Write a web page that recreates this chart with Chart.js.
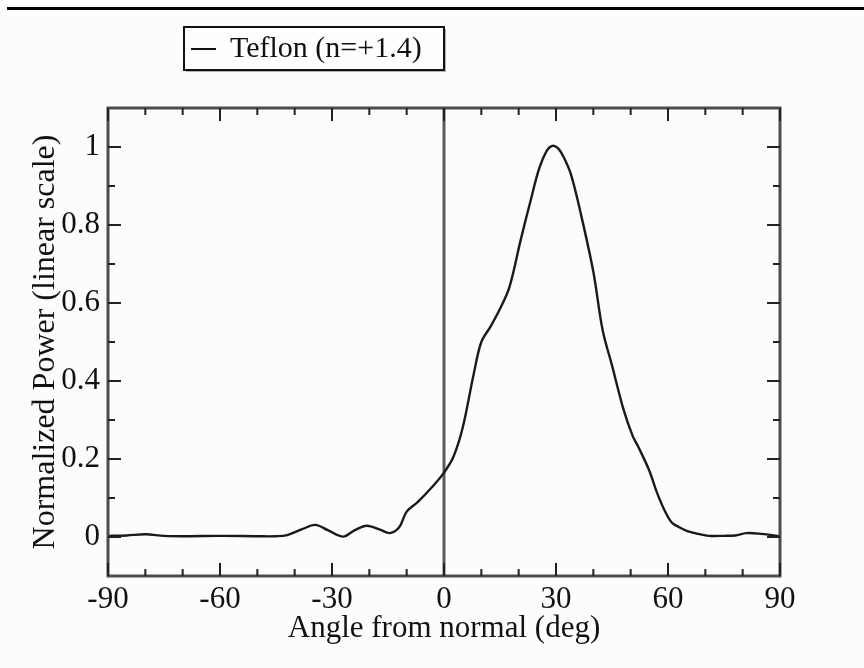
<!DOCTYPE html>
<html>
<head>
<meta charset="utf-8">
<script src="https://cdn.jsdelivr.net/npm/chart.js@4.4.1/dist/chart.umd.min.js"></script>
<style>
  html, body { margin: 0; padding: 0; background: #fafcfd; }
  #wrap { width: 864px; height: 668px; position: relative; }
</style>
</head>
<body>
<div id="wrap"><canvas id="c" width="864" height="668"></canvas></div>
<script>
const seriesLabel = "Teflon (n=+1.4)";
const angles = [-90, -85, -80, -75, -70, -60, -50, -45, -42, -38, -34.5, -31, -27, -24, -20.7, -17, -14.5, -12, -10, -7, -3, 0, 2.5, 5, 8, 10, 12.5, 15, 17.5, 20.5, 23, 25.5, 27.5, 29, 30.5, 32, 34, 36.5, 40, 42.5, 45, 48, 50.5, 52, 55, 57, 59, 61, 63, 65, 68, 71, 75, 78, 81, 85, 90];
const power = [0.003, 0.004, 0.007, 0.003, 0.002, 0.003, 0.002, 0.002, 0.005, 0.02, 0.031, 0.017, 0.001, 0.017, 0.029, 0.018, 0.01, 0.025, 0.065, 0.09, 0.13, 0.165, 0.205, 0.28, 0.42, 0.5, 0.54, 0.585, 0.64, 0.76, 0.855, 0.945, 0.99, 1.003, 0.997, 0.975, 0.93, 0.835, 0.68, 0.53, 0.44, 0.33, 0.26, 0.232, 0.17, 0.115, 0.07, 0.037, 0.025, 0.016, 0.008, 0.003, 0.003, 0.004, 0.01, 0.008, 0.002];
const xTickValues = [-90, -60, -30, 0, 30, 60, 90];
const xMinorValues = [-80, -70, -50, -40, -20, -10, 10, 20, 40, 50, 70, 80];
const yTickValues = [0, 0.2, 0.4, 0.6, 0.8, 1];
const yMinorValues = [0.1, 0.3, 0.5, 0.7, 0.9];
const xTitle = "Angle from normal (deg)";
const yTitle = "Normalized Power (linear scale)";

const points = angles.map((a, i) => ({ x: a, y: power[i] }));
const FONT = "'Liberation Serif', 'DejaVu Serif', serif";
const FRAME = '#4d4d4d';

const framePlugin = {
  id: 'framePlugin',
  beforeDatasetsDraw(chart) {
    const { ctx, chartArea: a, scales: { x } } = chart;
    ctx.save();
    ctx.strokeStyle = '#5a5a5a';
    ctx.lineWidth = 3;
    const px = x.getPixelForValue(0);
    ctx.beginPath();
    ctx.moveTo(px, a.top);
    ctx.lineTo(px, a.bottom);
    ctx.stroke();
    ctx.restore();
  },
  afterDatasetsDraw(chart) {
    const { ctx, chartArea: a, scales: { x, y } } = chart;
    ctx.save();
    ctx.strokeStyle = FRAME;
    ctx.lineWidth = 3;
    ctx.strokeRect(a.left, a.top, a.right - a.left, a.bottom - a.top);
    ctx.lineWidth = 2;
    ctx.strokeStyle = '#222';
    const tick = (vals, len, horiz) => {
      vals.forEach(v => {
        ctx.beginPath();
        if (horiz) {
          const p = x.getPixelForValue(v);
          ctx.moveTo(p, a.bottom); ctx.lineTo(p, a.bottom - len);
          ctx.moveTo(p, a.top); ctx.lineTo(p, a.top + len);
        } else {
          const p = y.getPixelForValue(v);
          ctx.moveTo(a.left, p); ctx.lineTo(a.left + len, p);
          ctx.moveTo(a.right, p); ctx.lineTo(a.right - len, p);
        }
        ctx.stroke();
      });
    };
    tick(xTickValues, 13, true);
    tick(xMinorValues, 7, true);
    tick(yTickValues, 13, false);
    tick(yMinorValues, 7, false);
    ctx.restore();

    // top rule
    ctx.save();
    ctx.fillStyle = '#000';
    ctx.fillRect(7, 7, 857, 3);
    ctx.restore();

    // legend box
    ctx.save();
    const bx = 184, by = 27, bw = 260, bh = 43;
    ctx.fillStyle = '#b0b0b0';
    ctx.fillRect(bx + 2, by + 2, bw, bh);
    ctx.fillStyle = '#fdfefe';
    ctx.fillRect(bx, by, bw, bh);
    ctx.strokeStyle = '#111';
    ctx.lineWidth = 2;
    ctx.strokeRect(bx, by, bw, bh);
    ctx.beginPath();
    ctx.moveTo(bx + 7, by + 22);
    ctx.lineTo(bx + 32, by + 22);
    ctx.stroke();
    ctx.fillStyle = '#111';
    ctx.font = "30px " + FONT;
    ctx.textBaseline = 'middle';
    ctx.textAlign = 'left';
    ctx.fillText(chart.data.datasets[0].label, bx + 46, by + 22);
    ctx.restore();
  }
};

new Chart(document.getElementById('c'), {
  type: 'scatter',
  data: {
    datasets: [{
      label: seriesLabel,
      data: points,
      showLine: true,
      borderColor: '#1a1a1a',
      borderWidth: 2.4,
      pointRadius: 0,
      tension: 0.35
    }]
  },
  options: {
    responsive: false,
    animation: false,
    layout: { padding: { top: 108, right: 84, left: 0, bottom: 0 } },
    plugins: { legend: { display: false }, tooltip: { enabled: false } },
    scales: {
      x: {
        type: 'linear',
        min: -90, max: 90,
        afterFit(s) { s.height = 92; },
        afterBuildTicks(s) { s.ticks = xTickValues.map(v => ({ value: v })); },
        grid: { display: false, drawTicks: false },
        border: { display: false },
        ticks: { color: '#111', padding: 5, maxRotation: 0, font: { family: FONT, size: 31 } },
        title: { display: true, text: xTitle, color: '#111', padding: { top: 0, bottom: 21 }, font: { family: FONT, size: 31 } }
      },
      y: {
        type: 'linear',
        min: -0.1, max: 1.1,
        afterFit(s) { s.width = 108; },
        afterBuildTicks(s) { s.ticks = yTickValues.map(v => ({ value: v })); },
        grid: { display: false, drawTicks: false },
        border: { display: false },
        ticks: { color: '#111', padding: 8, font: { family: FONT, size: 31 }, callback: v => String(Math.round(v * 10) / 10) },
        title: { display: true, text: yTitle, color: '#111', padding: { top: 26, bottom: 0 }, font: { family: FONT, size: 32 } }
      }
    }
  },
  plugins: [framePlugin]
});
</script>
</body>
</html>
